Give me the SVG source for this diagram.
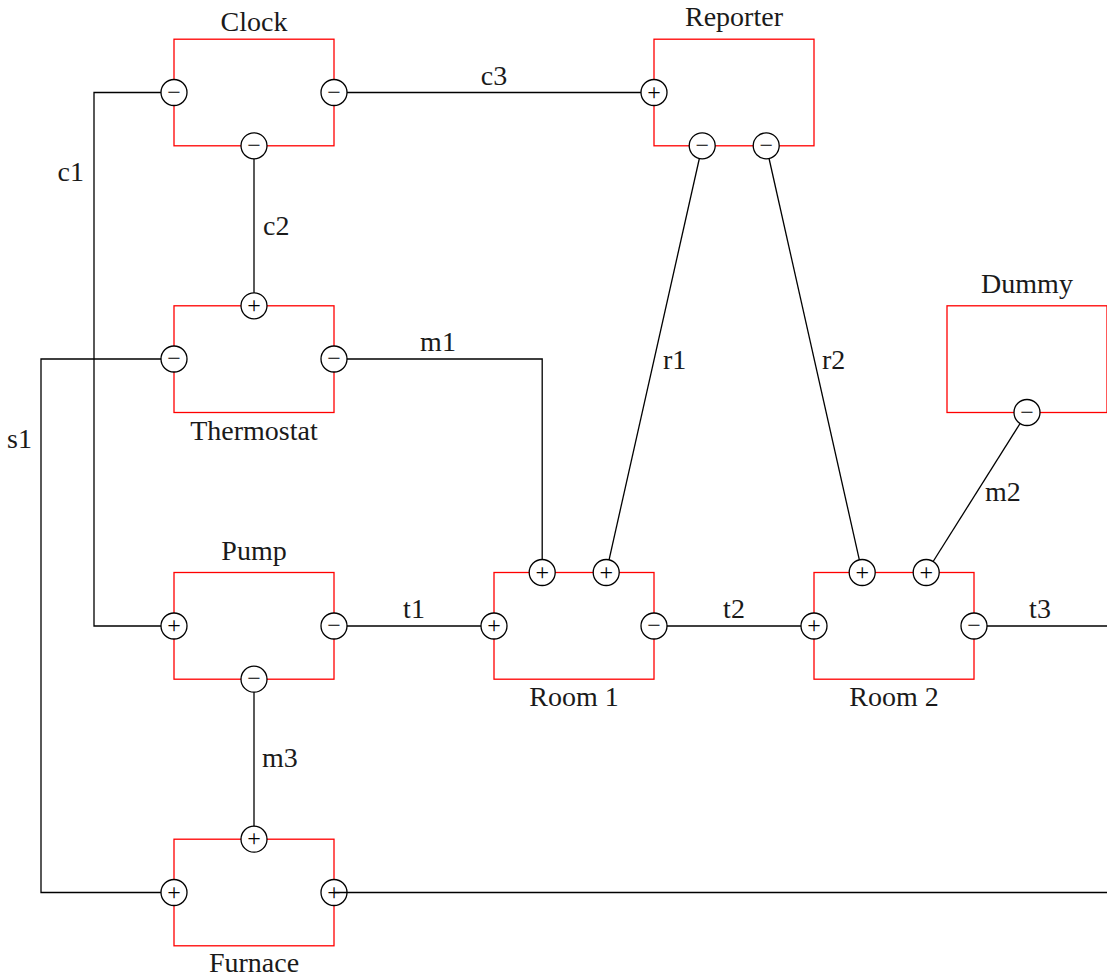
<svg xmlns="http://www.w3.org/2000/svg" width="1107" height="980" viewBox="0 0 1107 980">
  <style>
    .box { fill: none; stroke: #ff0000; stroke-width: 1.3; }
    .port { fill: #ffffff; stroke: #000000; stroke-width: 1.3; }
    .sign { font-family: "Liberation Serif", "DejaVu Serif", serif; font-size: 24px; text-anchor: middle; fill: #000000; }
    .name { font-family: "Liberation Serif", "DejaVu Serif", serif; font-size: 28px; text-anchor: middle; fill: #1a1a1a; }
    .lbl { font-family: "Liberation Serif", "DejaVu Serif", serif; font-size: 28px; fill: #1a1a1a; }
    .wire { fill: none; stroke: #000000; stroke-width: 1.3; }
  </style>

  <!-- Clock -->
  <g id="clock">
    <rect class="box" x="174" y="39.2" width="160" height="106.6"/>
    <text class="name" x="254" y="31">Clock</text>
    <circle class="port" cx="174" cy="92.5" r="13"/><text class="sign" x="174" y="99.5">−</text>
    <circle class="port" cx="334" cy="92.5" r="13"/><text class="sign" x="334" y="99.5">−</text>
    <circle class="port" cx="254" cy="145.8" r="13"/><text class="sign" x="254" y="152.8">−</text>
  </g>

  <!-- Reporter -->
  <g id="reporter">
    <rect class="box" x="654" y="39.2" width="160" height="106.6"/>
    <text class="name" x="734" y="26">Reporter</text>
    <circle class="port" cx="654" cy="92.5" r="13"/><text class="sign" x="654" y="99.5">+</text>
    <circle class="port" cx="702.2" cy="145.8" r="13"/><text class="sign" x="702.2" y="152.8">−</text>
    <circle class="port" cx="766.2" cy="145.8" r="13"/><text class="sign" x="766.2" y="152.8">−</text>
  </g>

  <!-- Thermostat -->
  <g id="thermostat">
    <rect class="box" x="174" y="305.8" width="160" height="106.7"/>
    <text class="name" x="254" y="440">Thermostat</text>
    <circle class="port" cx="254" cy="305.8" r="13"/><text class="sign" x="254" y="312.8">+</text>
    <circle class="port" cx="174" cy="359" r="13"/><text class="sign" x="174" y="366">−</text>
    <circle class="port" cx="334" cy="359" r="13"/><text class="sign" x="334" y="366">−</text>
  </g>

  <!-- Dummy -->
  <g id="dummy">
    <rect class="box" x="947" y="305.8" width="160" height="106.7"/>
    <text class="name" x="1027" y="293">Dummy</text>
    <circle class="port" cx="1027" cy="412.5" r="13"/><text class="sign" x="1027" y="419.5">−</text>
  </g>

  <!-- Pump -->
  <g id="pump">
    <rect class="box" x="174" y="572.5" width="160" height="106.7"/>
    <text class="name" x="254" y="560">Pump</text>
    <circle class="port" cx="174" cy="626" r="13"/><text class="sign" x="174" y="633">+</text>
    <circle class="port" cx="334" cy="626" r="13"/><text class="sign" x="334" y="633">−</text>
    <circle class="port" cx="254" cy="679.2" r="13"/><text class="sign" x="254" y="686.2">−</text>
  </g>

  <!-- Room 1 -->
  <g id="room1">
    <rect class="box" x="494" y="572.5" width="160" height="106.7"/>
    <text class="name" x="574" y="706">Room 1</text>
    <circle class="port" cx="542.2" cy="572.5" r="13"/><text class="sign" x="542.2" y="579.5">+</text>
    <circle class="port" cx="606.2" cy="572.5" r="13"/><text class="sign" x="606.2" y="579.5">+</text>
    <circle class="port" cx="494" cy="626" r="13"/><text class="sign" x="494" y="633">+</text>
    <circle class="port" cx="654" cy="626" r="13"/><text class="sign" x="654" y="633">−</text>
  </g>

  <!-- Room 2 -->
  <g id="room2">
    <rect class="box" x="814" y="572.5" width="160" height="106.7"/>
    <text class="name" x="894" y="706">Room 2</text>
    <circle class="port" cx="862.2" cy="572.5" r="13"/><text class="sign" x="862.2" y="579.5">+</text>
    <circle class="port" cx="926.2" cy="572.5" r="13"/><text class="sign" x="926.2" y="579.5">+</text>
    <circle class="port" cx="814" cy="626" r="13"/><text class="sign" x="814" y="633">+</text>
    <circle class="port" cx="974" cy="626" r="13"/><text class="sign" x="974" y="633">−</text>
  </g>

  <!-- Furnace -->
  <g id="furnace">
    <rect class="box" x="174" y="839.2" width="160" height="106.6"/>
    <text class="name" x="254" y="972">Furnace</text>
    <circle class="port" cx="254" cy="839.2" r="13"/><text class="sign" x="254" y="846.2">+</text>
    <circle class="port" cx="174" cy="892.5" r="13"/><text class="sign" x="174" y="899.5">+</text>
    <circle class="port" cx="334" cy="892.5" r="13"/><text class="sign" x="334" y="899.5">+</text>
  </g>

  <!-- Wires between ports -->
  <g id="connectors">
    <path class="wire" d="M161,92.5 H94 V626 H161"/>
    <text class="lbl" x="84" y="181" text-anchor="end">c1</text>

    <path class="wire" d="M254,158.8 V292.8"/>
    <text class="lbl" x="263" y="235">c2</text>

    <path class="wire" d="M347,92.5 H641"/>
    <text class="lbl" x="494" y="85" text-anchor="middle">c3</text>

    <path class="wire" d="M347,359 H542.2 V559.5"/>
    <text class="lbl" x="438" y="351" text-anchor="middle">m1</text>

    <path class="wire" d="M161,359 H41 V892.5 H161"/>
    <text class="lbl" x="32" y="448" text-anchor="end">s1</text>

    <path class="wire" d="M699.35,158.5 L609.05,559.8"/>
    <text class="lbl" x="663" y="369">r1</text>

    <path class="wire" d="M769.05,158.5 L859.35,559.8"/>
    <text class="lbl" x="822" y="369">r2</text>

    <path class="wire" d="M1020.07,423.5 L933.13,561.5"/>
    <text class="lbl" x="985" y="501">m2</text>

    <path class="wire" d="M347,626 H481"/>
    <text class="lbl" x="414" y="618" text-anchor="middle">t1</text>

    <path class="wire" d="M667,626 H801"/>
    <text class="lbl" x="734" y="618" text-anchor="middle">t2</text>

    <path class="wire" d="M987,626 H1107"/>
    <text class="lbl" x="1040" y="618" text-anchor="middle">t3</text>

    <path class="wire" d="M254,692.2 V826.2"/>
    <text class="lbl" x="262" y="767">m3</text>

    <path class="wire" d="M334,892.5 H1107"/>
  </g>
</svg>
